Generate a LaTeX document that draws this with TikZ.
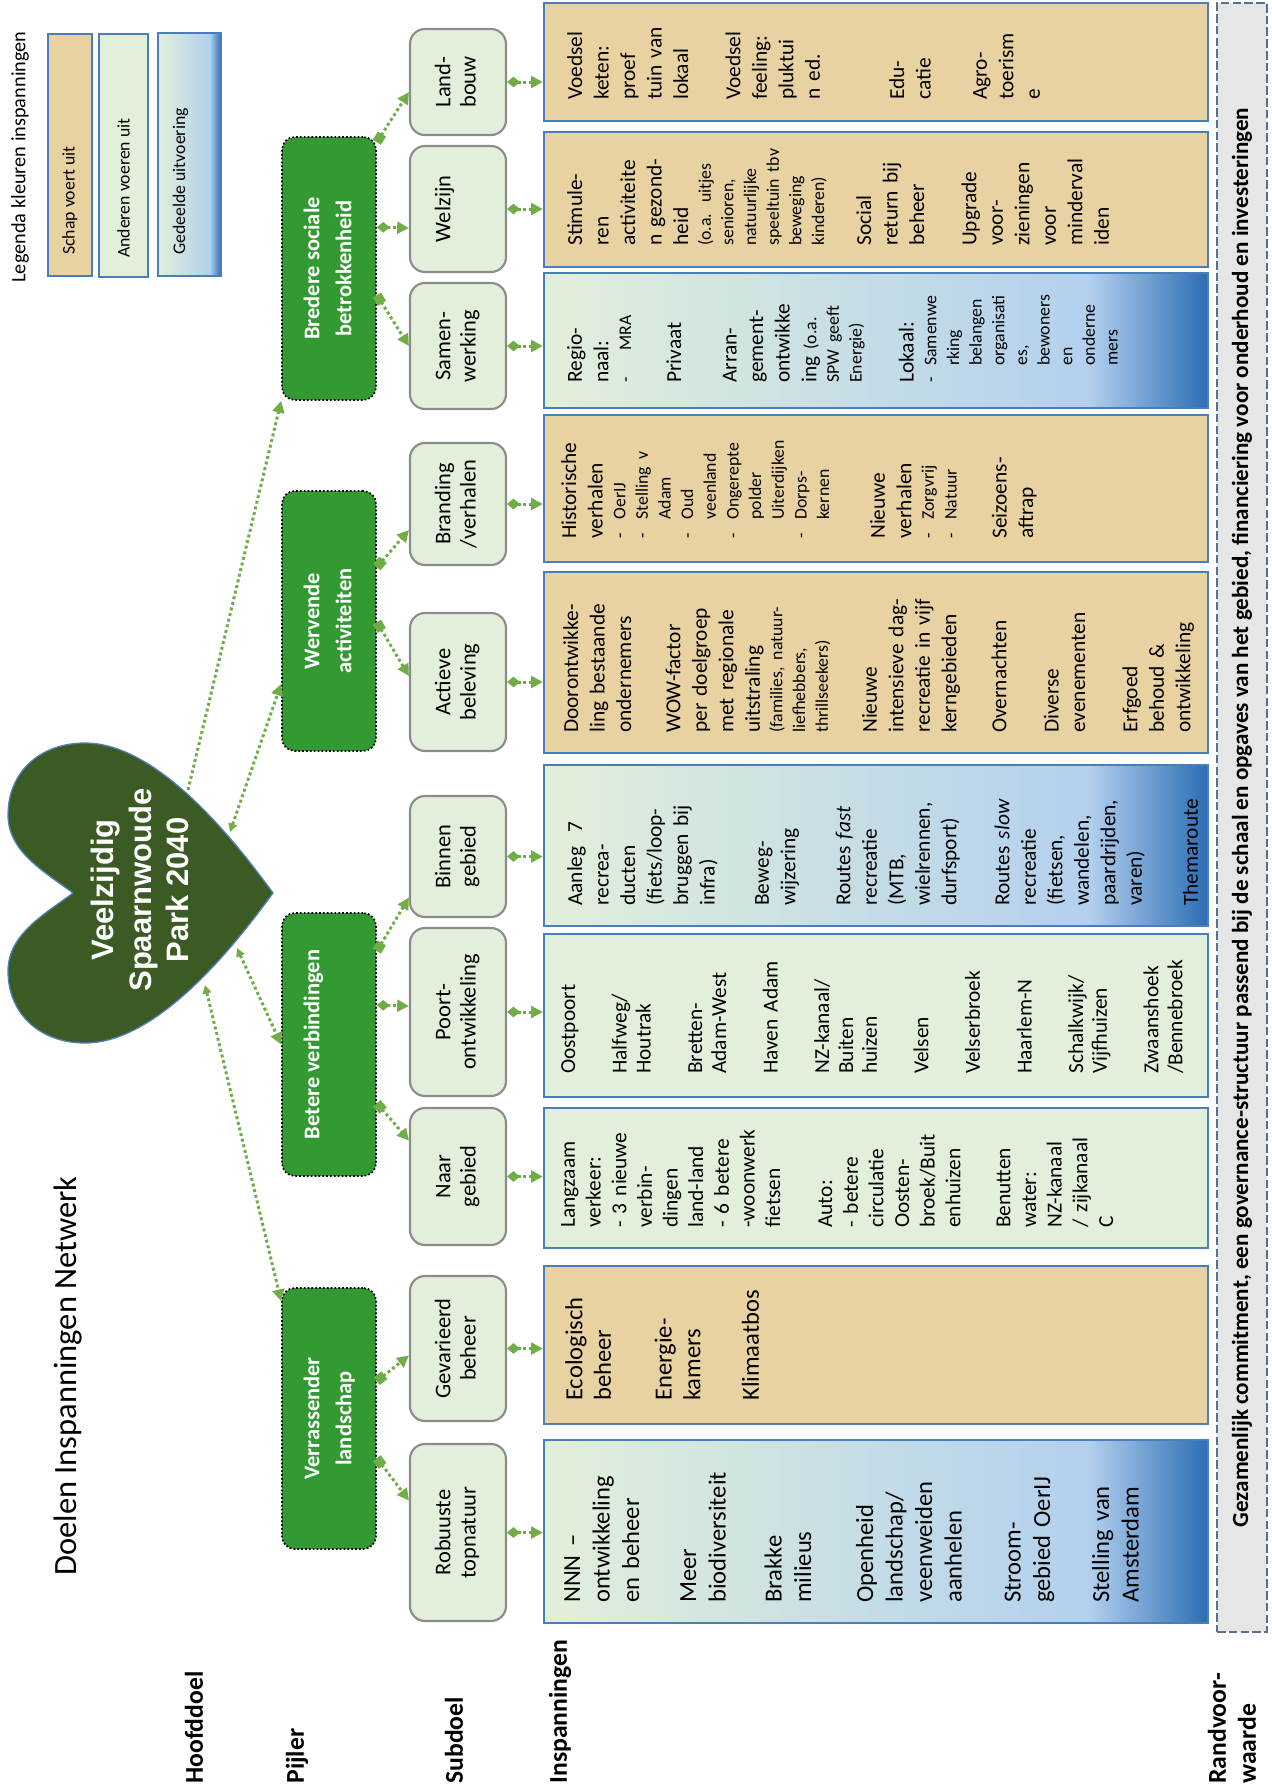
\documentclass[tikz,border=0pt]{standalone}
\usepackage{fontspec}
\setmainfont{Carlito}
\newfontfamily\hartfont{Liberation Sans}
\usepackage{graphicx}
\usetikzlibrary{arrows.meta, calc}

\definecolor{papyrus}{HTML}{E8D2A2}
\definecolor{lichtgroen}{HTML}{E2EFDA}
\definecolor{insrand}{HTML}{4A7EBB}
\definecolor{subrand}{HTML}{8C8C8C}
\definecolor{pijlergroen}{HTML}{339933}
\definecolor{lijngroen}{HTML}{70AD47}
\definecolor{hartgroen}{HTML}{3C5A24}
\definecolor{hartrand}{HTML}{4F81BD}
\definecolor{randgrijs}{HTML}{E7E6E6}
\definecolor{randlijn}{HTML}{5A7090}
\definecolor{gedeeldA}{HTML}{E2EFD9}
\definecolor{gedeeldB}{HTML}{C4DCE6}
\definecolor{gedeeldC}{HTML}{B3D0EE}
\definecolor{gedeeldD}{HTML}{2C6DB4}

\pgfdeclarehorizontalshading{gedeeldkleur}{100bp}{color(0bp)=(gedeeldA); color(25bp)=(gedeeldA); color(50bp)=(gedeeldB); color(66bp)=(gedeeldC); color(75bp)=(gedeeldD); color(100bp)=(gedeeldD)}

\newlength\pxu
\setlength\pxu{0.4678pt}

\newcommand{\staand}[1]{\rotatebox{90}{\begin{tabular}{@{}c@{}}#1\end{tabular}}}
\newcommand{\insn}{\fontsize{10}{12.4}\selectfont}
\newcommand{\inss}{\fontsize{8.3}{10.6}\selectfont}
\newcommand{\insb}{\fontsize{11.5}{13.8}\selectfont}
\newcommand{\tussen}[1]{\par\vspace{#1pt}}
\newcommand{\opsom}[2][9pt]{\makebox[#1][l]{-}#2}
\newcommand{\verder}[2][9pt]{\hspace*{#1}#2}

\begin{document}
\begin{tikzpicture}[x=0.4678pt, y=-0.4678pt,
		pijler/.style={draw=black, densely dotted, line width=0.8pt, rounded corners=6pt, fill=pijlergroen, text=white, font=\fontsize{10.5}{15}\selectfont\bfseries, minimum width=94\pxu, inner sep=0pt},
		subdoel/.style={draw=subrand, line width=1pt, rounded corners=7pt, fill=lichtgroen, font=\fontsize{10.5}{11.8}\selectfont, minimum width=96\pxu, inner sep=0pt},
		insbox/.style={draw=insrand, line width=1.1pt, minimum width=664\pxu, inner sep=0pt},
		schap/.style={fill=papyrus},
		anderen/.style={fill=lichtgroen},
		gedeeld/.style={shading=gedeeldkleur},
		instekst/.style={rotate=90, anchor=north west, inner sep=0pt, align=left, text width=89pt, font=\insn},
		rijlabel/.style={rotate=90, anchor=west, inner sep=0pt, font=\fontsize{12}{14}\selectfont\bfseries},
		legtekst/.style={rotate=90, anchor=west, inner sep=0pt, font=\fontsize{8.3}{10}\selectfont},
		link/.style={draw=lijngroen, line width=1.4pt, dash pattern=on 1.4pt off 1.3pt},
		tak/.style={link, {Square[length=4.5pt,width=4.5pt]}-{Triangle[length=5.5pt,width=5.5pt]}},
		recht/.style={link, {Diamond[length=6pt,width=5pt]}-{Triangle[length=5.5pt,width=5.5pt]}},
		hartlink/.style={link, {Triangle[length=4pt,width=4pt]}-{Triangle[length=5.5pt,width=5.5pt]}}]
	
	\useasboundingbox (0,0) rectangle (1272,1791);
	
	\def\insX{876};
	\def\subX{458};
	\def\pijX{329};
	
	\node[rotate=90, anchor=west, inner sep=0pt, font=\fontsize{9.5}{11}\selectfont] (legenda) at (20,283) {Legenda kleuren inspanningen};
	\node[insbox, schap, minimum width=44\pxu, minimum height=242\pxu] (leg-schap) at (70,155) {};
	\node[insbox, anderen, minimum width=49\pxu, minimum height=243\pxu] (leg-anderen) at (123.5,155.5) {};
	\node[insbox, gedeeld, minimum width=63\pxu, minimum height=243\pxu] (leg-gedeeld) at (189.5,154.5) {};
	\node[legtekst] (leg-schap-t) at ($(leg-schap.south)+(0,-22)$) {Schap voert uit};
	\node[legtekst] (leg-anderen-t) at ($(leg-anderen.south)+(0,-20)$) {Anderen voeren uit};
	\node[legtekst] (leg-gedeeld-t) at ($(leg-gedeeld.south)+(-9,-22)$) {Gedeelde uitvoering};
	
	\node[rotate=90, anchor=west, inner sep=0pt, font=\fontsize{15.2}{18}\selectfont] (titel) at (68,1576) {Doelen Inspanningen Netwerk};
	
	\node[rijlabel] (hoofddoel-l) at (194,1784) {Hoofddoel};
	\node[rijlabel] (pijler-l) at (297,1784) {Pijler};
	\node[rijlabel] (subdoel-l) at (454,1784) {Subdoel};
	\node[rijlabel] (inspanningen-l) at (560,1784) {Inspanningen};
	\node[rijlabel, align=left] (randvw-l) at (1232,1784) {Randvoor-\\waarde};
	
	\fill[hartgroen, draw=hartrand, line width=0.6pt] (73,893) .. controls (45,872) and (8,852) .. (8,815) .. controls (8,772) and (40,743) .. (85,743) .. controls (150,743) and (220,820) .. (273,893) .. controls (220,966) and (150,1043) .. (85,1043) .. controls (40,1043) and (8,1014) .. (8,971) .. controls (8,934) and (45,914) .. (73,893);
	\node[rotate=90, align=center, inner sep=0pt, text=white, font=\hartfont\fontsize{14.5}{17.5}\selectfont\bfseries] (hart) at (140,890) {Veelzijdig\\Spaarnwoude\\Park 2040};
	\coordinate (hart-a) at (188,790);
	\coordinate (hart-b) at (230,832);
	\coordinate (hart-c) at (237,948);
	\coordinate (hart-d) at (205,985);
	
	\node[pijler, minimum height=263\pxu] (bredere) at (\pijX,268.5) {\staand{Bredere sociale\\betrokkenheid}};
	\node[pijler, minimum height=260\pxu] (wervende) at (\pijX,621) {\staand{Wervende\\activiteiten}};
	\node[pijler, minimum height=263\pxu] (betere) at (\pijX,1044.5) {\staand{Betere verbindingen\\\mbox{}}};
	\node[pijler, minimum height=261\pxu] (verrassender) at (\pijX,1418.5) {\staand{Verrassender\\landschap}};
	
	\node[subdoel, minimum height=106\pxu] (landbouw) at (\subX,82) {\staand{Land-\\bouw}};
	\node[subdoel, minimum height=126\pxu] (welzijn) at (\subX,209) {\staand{Welzijn\\\mbox{}}};
	\node[subdoel, minimum height=126\pxu] (samenwerking) at (\subX,346) {\staand{Samen-\\werking}};
	\node[subdoel, minimum height=122\pxu] (branding) at (\subX,504) {\staand{Branding\\/verhalen}};
	\node[subdoel, minimum height=138\pxu] (actieve) at (\subX,682) {\staand{Actieve\\beleving}};
	\node[subdoel, minimum height=121\pxu] (binnen) at (\subX,856.5) {\staand{Binnen\\gebied}};
	\node[subdoel, minimum height=168\pxu] (poort) at (\subX,1012) {\staand{Poort-\\ontwikkeling}};
	\node[subdoel, minimum height=137\pxu] (naar) at (\subX,1176.5) {\staand{Naar\\gebied}};
	\node[subdoel, minimum height=145\pxu] (gevarieerd) at (\subX,1348.5) {\staand{Gevarieerd\\beheer}};
	\node[subdoel, minimum height=177\pxu] (robuuste) at (\subX,1532.5) {\staand{Robuuste\\topnatuur}};
	
	\node[insbox, schap, minimum height=118\pxu] (ins-landbouw) at (\insX,62) {};
	\node[insbox, schap, minimum height=135\pxu] (ins-welzijn) at (\insX,199.5) {};
	\node[insbox, gedeeld, minimum height=135\pxu] (ins-samenwerking) at (\insX,340.5) {};
	\node[insbox, schap, minimum height=147\pxu] (ins-branding) at (\insX,488.5) {};
	\node[insbox, schap, minimum height=181\pxu] (ins-actieve) at (\insX,662.5) {};
	\node[insbox, gedeeld, minimum height=161\pxu] (ins-binnen) at (\insX,845.5) {};
	\node[insbox, anderen, minimum height=163\pxu] (ins-poort) at (\insX,1015.5) {};
	\node[insbox, anderen, minimum height=140\pxu] (ins-naar) at (\insX,1178) {};
	\node[insbox, schap, minimum height=158\pxu] (ins-gevarieerd) at (\insX,1345) {};
	\node[insbox, gedeeld, minimum height=183\pxu] (ins-robuuste) at (\insX,1531.5) {};
	
	\node[instekst] (ins-landbouw-t) at ($(ins-landbouw.south west)+(24,-22)$) {Voedsel\\keten:\\proef\\tuin van\\lokaal\tussen{12}Voedsel\\feeling:\\pluktui\\n ed.\tussen{27}Edu-\\catie\tussen{14}Agro-\\toerism\\e};
	\node[instekst] (ins-welzijn-t) at ($(ins-welzijn.south west)+(24,-22)$) {Stimule-\\ren\\activiteite\\n gezond-\\heid\par{\inss (o.a. uitjes\\senioren,\\natuurlijke\\speeltuin tbv\\beweging\\kinderen)\par}\tussen{9.6}Social\\return bij\\beheer\tussen{12}Upgrade\\voor-\\zieningen\\voor\\minderval\\iden};
	\node[instekst] (ins-samenwerking-t) at ($(ins-samenwerking.south west)+(24,-26)$) {Regio-\\naal:\par{\inss\opsom[15pt]{MRA}\par}\tussen{11}Privaat\tussen{13.6}Arran-\\gement-\\ontwikke\\ing {\inss(o.a.}\par{\inss SPW geeft\\Energie)\par}\tussen{12}Lokaal:\par{\inss\opsom[8pt]{Samenwe}\\\verder[8pt]{rking}\\\verder[8pt]{belangen}\\\verder[8pt]{organisati}\\\verder[8pt]{es,}\\\verder[8pt]{bewoners}\\\verder[8pt]{en}\\\verder[8pt]{onderne}\\\verder[8pt]{mers}\par}};
	\node[instekst] (ins-branding-t) at ($(ins-branding.south west)+(18,-24)$) {Historische\\verhalen\par{\inss\opsom{OerIJ}\\\opsom{Stelling v}\\\verder{Adam}\\\opsom{Oud}\\\verder{veenland}\\\opsom{Ongerepte}\\\verder{polder}\\\verder{Uiterdijken}\\\opsom{Dorps-}\\\verder{kernen}\par}\tussen{13.6}Nieuwe\\verhalen\par{\inss\opsom{Zorgvrij}\\\opsom{Natuur}\par}\tussen{11}Seizoens-\\aftrap};
	\node[instekst] (ins-actieve-t) at ($(ins-actieve.south west)+(20,-21)$) {Doorontwikke-\\ling bestaande\\ondernemers\tussen{10.6}WOW-factor\\per doelgroep\\met regionale\\uitstraling\par{\inss (families, natuur-\\liefhebbers,\\thrillseekers)\par}\tussen{10.6}Nieuwe\\intensieve dag-\\recreatie in vijf\\kerngebieden\tussen{11}Overnachten\tussen{12}Diverse\\evenementen\tussen{12}Erfgoed\\behoud \&\\ontwikkeling};
	\node[instekst] (ins-binnen-t) at ($(ins-binnen.south west)+(24,-21)$) {Aanleg~ 7\\recrea-\\ducten\\(fiets/loop-\\bruggen bij\\infra)\tussen{13}Beweg-\\wijzering\tussen{13.3}Routes \textit{fast}\\recreatie\\(MTB,\\wielrennen,\\durfsport)\tussen{12.4}Routes \textit{slow}\\recreatie\\(fietsen,\\wandelen,\\paardrijden,\\varen)\tussen{13.8}Themaroute};
	\node[instekst, font=\fontsize{10}{11.2}\selectfont] (ins-poort-t) at ($(ins-poort.south west)+(18,-24)$) {Oostpoort\tussen{12.9}Halfweg/\\Houtrak\tussen{12.9}Bretten-\\Adam-West\tussen{12.9}Haven Adam\tussen{12.9}NZ-kanaal/\\Buiten\\huizen\tussen{12.9}Velsen\tussen{12.9}Velserbroek\tussen{12.9}Haarlem-N\tussen{12.9}Schalkwijk/\\Vijfhuizen\tussen{12.9}Zwaanshoek\\/Bennebroek};
	\node[instekst, font=\fontsize{10}{12}\selectfont] (ins-naar-t) at ($(ins-naar.south west)+(18,-21)$) {Langzaam\\verkeer:\\- 3 nieuwe\\verbin-\\dingen\\land-land\\- 6 betere\\-woonwerk\\fietsen\tussen{12.3}Auto:\\- betere\\circulatie\\Oosten-\\broek/Buit\\enhuizen\tussen{11.4}Benutten\\water:\\NZ-kanaal\\/ zijkanaal\\C};
	\node[instekst, font=\fontsize{11.5}{13.4}\selectfont] (ins-gevarieerd-t) at ($(ins-gevarieerd.south west)+(22,-24)$) {Ecologisch\\beheer\tussen{15}Energie-\\kamers\tussen{14}Klimaatbos};
	\node[instekst, font=\insb] (ins-robuuste-t) at ($(ins-robuuste.south west)+(21,-21)$) {NNN --\\ontwikkeling\\en beheer\tussen{12.9}Meer\\biodiversiteit\tussen{12.4}Brakke\\milieus\tussen{15.2}Openheid\\landschap/\\veenweiden\\aanhelen\tussen{13.8}Stroom-\\gebied OerIJ\tussen{13.8}Stelling van\\Amsterdam};
	
	\node[draw=randlijn, dash pattern=on 4pt off 1.5pt, line width=1pt, fill=randgrijs, minimum width=50\pxu, minimum height=1629\pxu, inner sep=0pt] (randvw) at (1242,817.5) {};
	\node[rotate=90, inner sep=0pt, font=\fontsize{10.8}{13}\selectfont\bfseries] (randvw-t) at (randvw.center) {Gezamenlijk commitment, een governance-structuur passend bij de schaal en opgaves van het gebied, financiering voor onderhoud en investeringen};
	
	\begin{scope}
		\draw[link, -{Triangle[length=5.5pt,width=5.5pt]}] (hart-a) -- (bredere.south west);
		\draw[hartlink] (hart-b) -- ($(wervende.south west)+(0,-68)$);
		\draw[hartlink] (hart-c) -- (betere.west);
		\draw[hartlink] (hart-d) -- ($(verrassender.north west)+(0,14)$);
	\end{scope}
	
	\begin{scope}
		\draw[tak] ($(bredere.north east)+(0,6)$) -- ($(landbouw.west)+(0,10)$);
		\draw[recht] ($(bredere.north east)+(0,91)$) -- ($(welzijn.west)+(0,19)$);
		\draw[tak] ($(bredere.north east)+(0,159)$) -- (samenwerking.west);
		\draw[tak] ($(wervende.north east)+(0,77)$) -- ($(branding.west)+(0,26)$);
		\draw[tak] ($(wervende.north east)+(0,132)$) -- ($(actieve.west)+(0,-6)$);
		\draw[tak] ($(betere.north east)+(0,39)$) -- ($(binnen.west)+(0,41)$);
		\draw[recht] ($(betere.north east)+(0,93)$) -- ($(poort.west)+(0,-6)$);
		\draw[tak] ($(betere.north east)+(0,191)$) -- ($(naar.west)+(0,-36)$);
		\draw[tak] ($(verrassender.north east)+(0,94)$) -- ($(gevarieerd.west)+(0,7)$);
		\draw[tak] ($(verrassender.north east)+(0,171)$) -- ($(robuuste.west)+(0,-32)$);
	\end{scope}
	
	\foreach \s in {landbouw, welzijn, samenwerking, branding, actieve, binnen, poort, naar, gevarieerd, robuuste}
		\draw[recht] (\s.east) -- (\s.east -| ins-\s.west);
\end{tikzpicture}
\end{document}
